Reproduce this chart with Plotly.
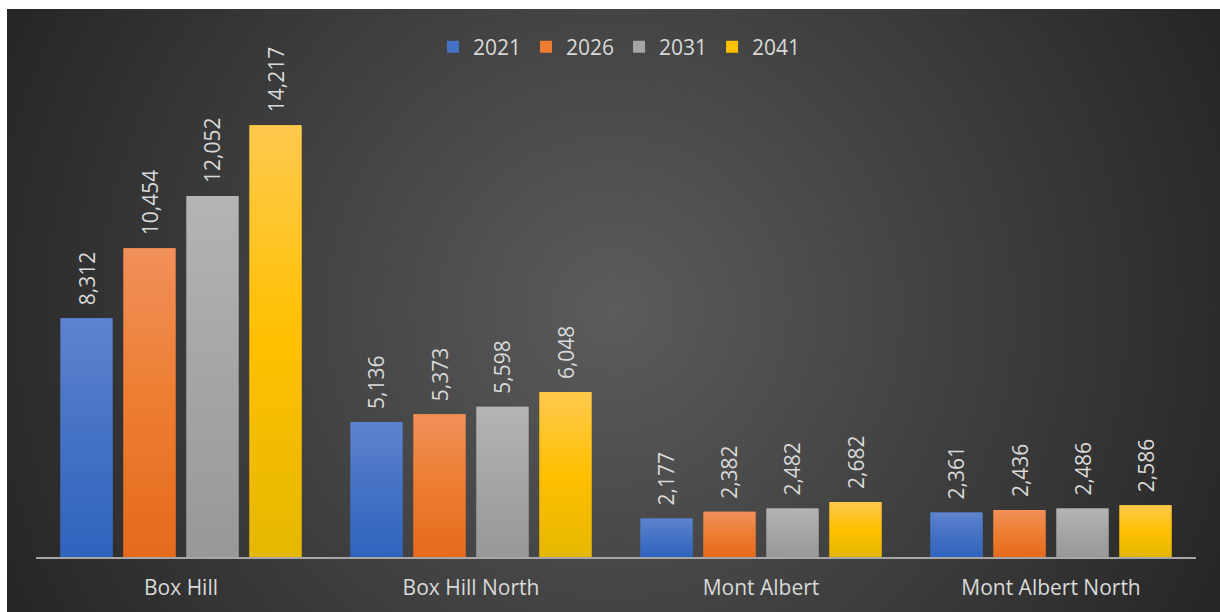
import plotly.graph_objects as go

# ---------------- data ----------------
CATEGORIES = ["Box Hill", "Box Hill North", "Mont Albert", "Mont Albert North"]
YEARS = ["2021", "2026", "2031", "2041"]
V2021 = [8312, 5136, 2177, 2361]
V2026 = [10454, 5373, 2382, 2436]
V2031 = [12052, 5598, 2482, 2486]
V2041 = [14217, 6048, 2682, 2586]
SERIES = [V2021, V2026, V2031, V2041]

# ---------------- style ----------------
# (bottom, mid, top) colours of each series' vertical gradient
GRADIENTS = [
    ("#2f63be", "#4472c4", "#5e83ce"),
    ("#e56a1c", "#ed7d31", "#f1905a"),
    ("#989898", "#a5a5a5", "#b4b4b4"),
    ("#e5b700", "#ffc000", "#ffc94e"),
]
TEXT_COLOR = "#d9d9d9"
FONT = "Open Sans"
FS = 21

W, H = 1220, 612
ML, MR, MT, MB = 36, 24, 67, 55
PW, PH = W - ML - MR, H - MT - MB

Y_MIN, Y_MAX = 1000, 16000
SLOT = 63 / 290
BAR_W = 52 / 290


def px_x(px):
    return (px - ML) / PW


def px_y(py):
    return (H - MB - py) / PH


fig = go.Figure()

# bars (solid base, used for legend / hover)
for s, (name, vals) in enumerate(zip(YEARS, SERIES)):
    off = (s - 1.5) * SLOT
    xs = [i + off for i in range(len(CATEGORIES))]
    fig.add_trace(go.Bar(
        x=xs, y=vals, width=BAR_W, name=name,
        marker=dict(color=GRADIENTS[s][1], line=dict(width=0)),
        customdata=CATEGORIES,
        hovertemplate="%{customdata}<br>" + name + ": %{y:,}<extra></extra>",
    ))

# gradient overlay per bar
for s, vals in enumerate(SERIES):
    bot, mid, top = GRADIENTS[s]
    off = (s - 1.5) * SLOT
    for i, v in enumerate(vals):
        x0 = i + off - BAR_W / 2
        x1 = i + off + BAR_W / 2
        fig.add_trace(go.Scatter(
            x=[x0, x1, x1, x0, x0], y=[Y_MIN, Y_MIN, v, v, Y_MIN],
            mode="lines", line=dict(width=0), fill="toself",
            fillgradient=dict(type="vertical",
                              colorscale=[[0, bot], [0.5, mid], [1, top]],
                              start=Y_MIN, stop=v),
            showlegend=False, hoverinfo="skip",
        ))

# data labels
annotations = []
for s, vals in enumerate(SERIES):
    off = (s - 1.5) * SLOT
    for i, v in enumerate(vals):
        annotations.append(dict(
            x=i + off, y=v, xref="x", yref="y", text=f"{v:,}",
            textangle=-90, showarrow=False, yanchor="bottom", xanchor="center",
            yshift=11, font=dict(family=FONT, size=FS, color=TEXT_COLOR),
        ))

# background: white border, dark radial gradient
shapes = []
cx, cy = 613.5, 310.5
R = 677.0
C_CENTER, C_EDGE = 92, 38
shapes.append(dict(type="rect", xref="paper", yref="paper", layer="below",
                   x0=px_x(7), x1=px_x(W), y0=px_y(9), y1=px_y(H),
                   fillcolor=f"rgb({C_EDGE},{C_EDGE},{C_EDGE})", line=dict(width=0)))
N = 54
for k in range(N):
    r = 1.0 - k / N
    c = round(C_CENTER + (C_EDGE - C_CENTER) * r)
    rad = r * R
    shapes.append(dict(type="circle", xref="paper", yref="paper", layer="below",
                       x0=px_x(cx - rad), x1=px_x(cx + rad),
                       y0=px_y(cy + rad), y1=px_y(cy - rad),
                       fillcolor=f"rgb({c},{c},{c})", line=dict(width=0)))
shapes.append(dict(type="rect", xref="paper", yref="paper", layer="below",
                   x0=px_x(0), x1=px_x(W), y0=px_y(0), y1=px_y(9),
                   fillcolor="white", line=dict(width=0)))
shapes.append(dict(type="rect", xref="paper", yref="paper", layer="below",
                   x0=px_x(0), x1=px_x(7), y0=px_y(0), y1=px_y(H),
                   fillcolor="white", line=dict(width=0)))

fig.update_layout(
    width=W, height=H,
    margin=dict(l=ML, r=MR, t=MT, b=MB, autoexpand=False),
    paper_bgcolor="white", plot_bgcolor="rgba(0,0,0,0)",
    barmode="overlay",
    font=dict(family=FONT, size=FS, color=TEXT_COLOR),
    showlegend=True,
    legend=dict(orientation="h", x=0.503, xanchor="center", y=px_y(47), yanchor="middle",
                font=dict(family=FONT, size=FS, color=TEXT_COLOR),
                bgcolor="rgba(0,0,0,0)", traceorder="normal"),
    xaxis=dict(range=[-0.5, len(CATEGORIES) - 0.5], tickmode="array",
               tickvals=list(range(len(CATEGORIES))), ticktext=CATEGORIES,
               showgrid=False, zeroline=False, showline=True,
               linecolor="#a6a6a6", linewidth=2, ticks="",
               tickfont=dict(family=FONT, size=FS, color=TEXT_COLOR),
               ticklabelstandoff=11, fixedrange=True),
    yaxis=dict(range=[Y_MIN, Y_MAX], visible=False, showgrid=False, fixedrange=True),
    shapes=shapes,
    annotations=annotations,
)

fig.write_html("out.html")
